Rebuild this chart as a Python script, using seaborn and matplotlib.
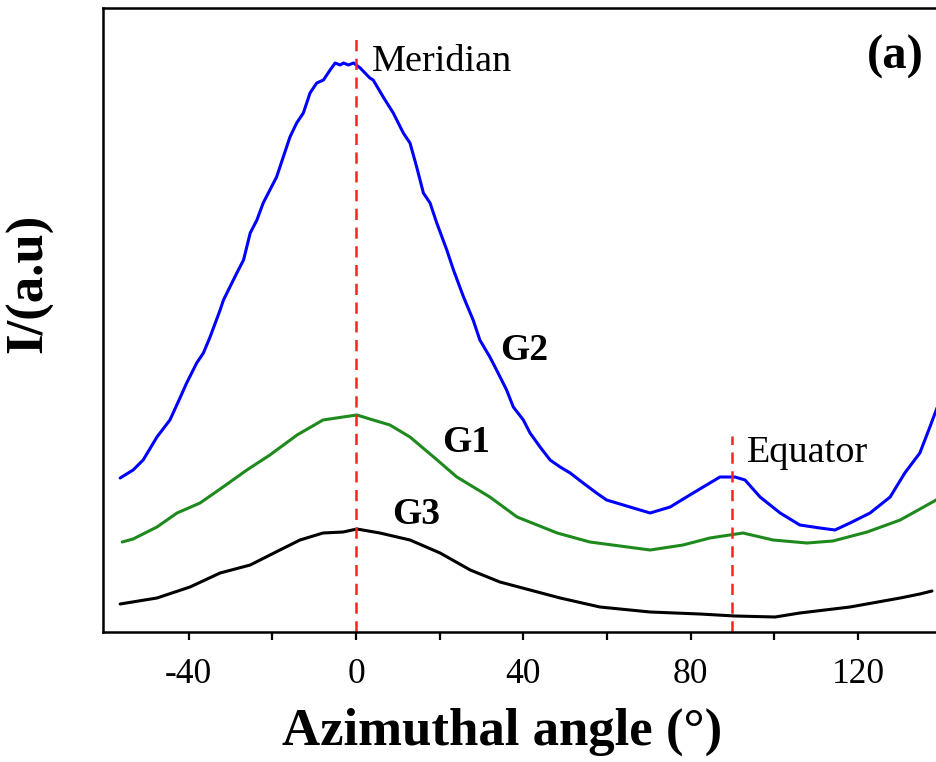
import numpy as np
import pandas as pd
import seaborn as sns
import matplotlib.pyplot as plt

# Azimuthal intensity profiles (arbitrary units)
g2_angle = [-56.4, -53.3, -50.9, -47.6, -44.5, -42.1, -40.5, -38.1, -36.5, -34.9,
            -32.5, -31.7, -28.5, -26.9, -25.3, -23.7, -22.2, -20.6, -19.0, -17.4,
            -15.8, -14.2, -12.6, -11.0, -9.4, -7.8, -6.2, -5.0, -3.8, -3.0,
            -1.8, -0.6, 1.0, 3.3, 4.1, 6.5, 8.9, 11.3, 12.9, 14.5,
            16.1, 17.7, 19.3, 21.7, 23.3, 25.7, 28.0, 29.6, 32.0, 33.6,
            36.0, 37.6, 40.0, 41.6, 44.0, 46.4, 48.8, 51.2, 54.3, 57.5,
            59.9, 67.9, 70.3, 75.1, 79.8, 84.6, 87.0, 90.6, 93.0, 96.6,
            101.4, 106.1, 110.9, 114.5, 118.1, 122.9, 127.7, 131.2, 134.8, 137.2,
            139.6]
g2_intensity = [154, 162, 172, 195, 212, 234, 249, 269, 279, 295,
                322, 332, 359, 372, 399, 412, 429, 442, 455, 475,
                495, 509, 519, 539, 549, 552, 562, 569, 567, 569,
                567, 569, 564, 554, 552, 535, 519, 499, 489, 465,
                439, 429, 409, 382, 362, 335, 312, 292, 275, 262,
                242, 225, 212, 199, 185, 172, 165, 159, 149, 139,
                132, 122, 119, 125, 137, 149, 155, 155, 152, 135,
                119, 107, 104, 102, 109, 119, 135, 159, 179, 205,
                232]

g1_angle = [-55.9, -53.3, -47.6, -42.8, -37.3, -31.8, -26.1, -20.6, -14.1, -7.9,
            -3.1, 0.2, 4.1, 8.1, 12.9, 19.4, 24.1, 32.0, 38.5, 48.1,
            55.9, 63.1, 70.3, 78.2, 84.6, 92.5, 99.7, 107.8, 114.0, 122.2,
            130.1, 138.7, 139.9]
g1_intensity = [90, 93, 105, 119, 129, 145, 162, 177, 197, 212,
                215, 217, 212, 207, 195, 172, 155, 135, 115, 99,
                90, 86, 82, 87, 94, 99, 92, 89, 91, 100,
                112, 132, 136]

g3_angle = [-56.4, -47.6, -39.7, -32.5, -25.3, -18.2, -13.4, -7.9, -3.1, 0.2,
            5.7, 12.9, 20.1, 27.3, 34.4, 41.6, 48.8, 58.3, 70.3, 82.2,
            90.6, 100.2, 106.1, 118.1, 130.1, 134.8, 137.7]
g3_intensity = [28, 34, 45, 59, 67, 82, 92, 99, 100, 103,
                99, 92, 79, 62, 50, 42, 34, 25, 20, 18,
                16, 15, 19, 25, 34, 38, 41]

series_names = ["G2", "G1", "G3"]
series_colors = ["#0000ff", "#1e8a1e", "#000000"]

x_ticks = [-40, 0, 40, 80, 120]
x_minor_ticks = [-20, 20, 60, 100]

meridian_angle = 0
equator_angle = 90

frames = []
for name, ang, inten in zip(series_names,
                            [g2_angle, g1_angle, g3_angle],
                            [g2_intensity, g1_intensity, g3_intensity]):
    frames.append(pd.DataFrame({"angle": ang, "intensity": inten, "sample": name}))
df = pd.concat(frames, ignore_index=True)

sns.set_style("ticks")
plt.rcParams["font.family"] = ["Liberation Serif", "DejaVu Serif"]
plt.rcParams["text.color"] = "black"
plt.rcParams["axes.labelcolor"] = "black"
plt.rcParams["xtick.color"] = "black"
plt.rcParams["ytick.color"] = "black"

fig = plt.figure(figsize=(9.36, 7.62), dpi=100)
W, H = 936, 762
x0_px, x1_px = 103, 941.6
y0_px, y1_px = 632, 8
ax = fig.add_axes([x0_px / W, (H - y0_px) / H, (x1_px - x0_px) / W, (y0_px - y1_px) / H])

sns.lineplot(data=df, x="angle", y="intensity", hue="sample",
             palette=dict(zip(series_names, series_colors)),
             sort=False, estimator=None, legend=False, linewidth=2.2, ax=ax)

# Reference directions
ax.plot([meridian_angle, meridian_angle], [0, 599], color="#ff2020",
        linestyle=(0, (4.5, 3)), linewidth=1.8)
ax.plot([equator_angle, equator_angle], [0, 196], color="#ff2020",
        linestyle=(0, (4.5, 3)), linewidth=1.8)

ax.text(3.8, 570, "Meridian", fontsize=27.5, ha="left", va="center")
ax.text(93.5, 179, "Equator", fontsize=27.5, ha="left", va="center")
ax.text(34.4, 282, "G2", fontsize=27, fontweight="bold", ha="left", va="center")
ax.text(20.6, 190, "G1", fontsize=27, fontweight="bold", ha="left", va="center")
ax.text(8.6, 117, "G3", fontsize=27, fontweight="bold", ha="left", va="center")
ax.text(122.2, 575, "(a)", fontsize=35, fontweight="bold", ha="left", va="center")

ax.set_xlim(-60.5, 140)
ax.set_ylim(0, 624)
ax.set_xticks(x_ticks)
ax.set_xticks(x_minor_ticks, minor=True)
ax.set_xticklabels([str(t) for t in x_ticks])
ax.set_yticks([])

ax.tick_params(axis="x", which="both", direction="out", length=6, width=1.6,
               labelsize=25.5, pad=13, colors="black")
for side in ["left", "bottom", "top", "right"]:
    ax.spines[side].set_visible(True)
    ax.spines[side].set_linewidth(1.8)
    ax.spines[side].set_color("black")

ax.set_xlabel("Azimuthal angle (°)", fontsize=38, fontweight="bold")
ax.xaxis.set_label_coords((502 - x0_px) / (x1_px - x0_px), -0.122)
ax.set_ylabel("I/(a.u)", fontsize=38, fontweight="bold")
ax.yaxis.set_label_coords((53 - x0_px) / (x1_px - x0_px), (632 - 283) / 624)

fig.savefig("out.png", dpi=100)
